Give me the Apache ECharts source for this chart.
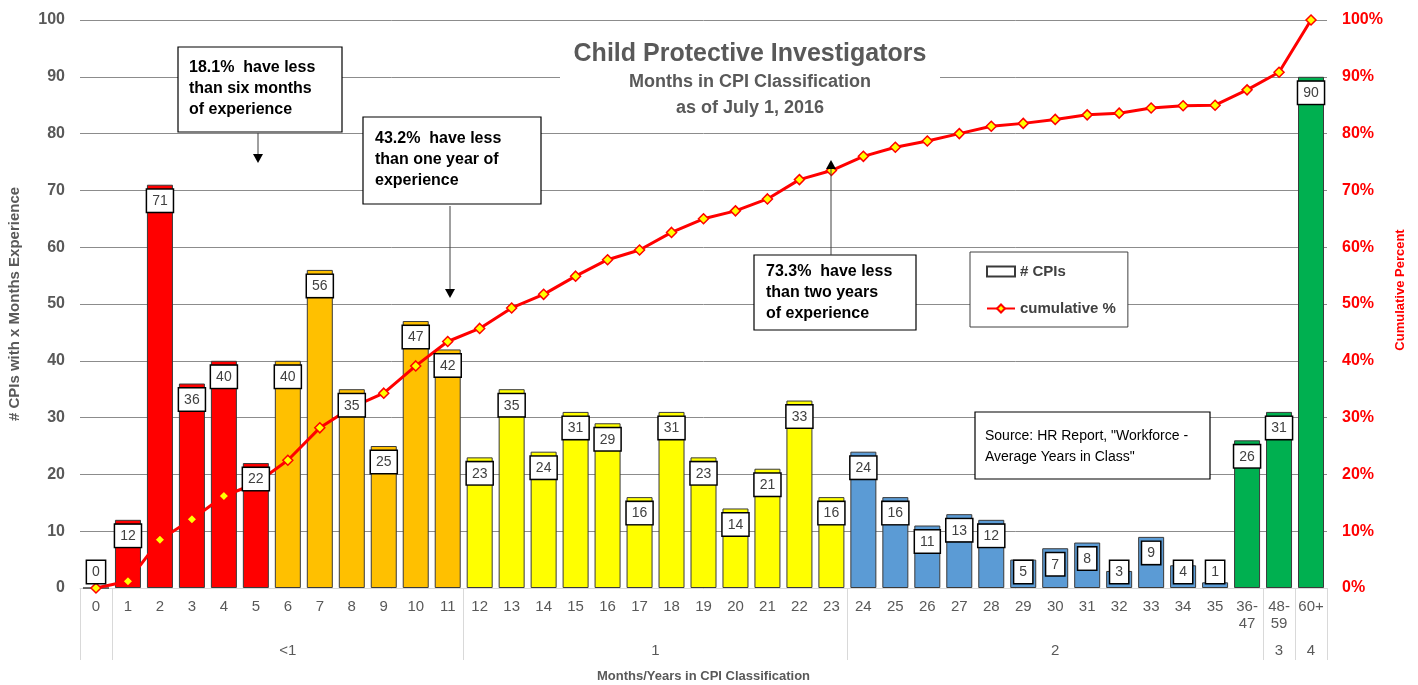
<!DOCTYPE html>
<html>
<head>
<meta charset="utf-8">
<script src="https://cdn.jsdelivr.net/npm/echarts@6/dist/echarts.min.js"></script>
<style>
  html, body { margin: 0; padding: 0; background: #fff; }
  #chart { width: 1418px; height: 685px; }
</style>
</head>
<body>
<div id="chart"></div>
<script>
// months / years in CPI classification
const categories = ['0', '1', '2', '3', '4', '5', '6', '7', '8', '9', '10', '11',
  '12', '13', '14', '15', '16', '17', '18', '19', '20', '21', '22', '23',
  '24', '25', '26', '27', '28', '29', '30', '31', '32', '33', '34', '35',
  '36-\n47', '48-\n59', '60+'];
// # CPIs
const counts = [0, 12, 71, 36, 40, 22, 40, 56, 35, 25, 47, 42,
  23, 35, 24, 31, 29, 16, 31, 23, 14, 21, 33, 16,
  24, 16, 11, 13, 12, 5, 7, 8, 3, 9, 4, 1,
  26, 31, 90];
// cumulative %
const cumulativePct = [0, 1.2, 8.5, 12.1, 16.2, 18.4, 22.5, 28.2, 31.8, 34.3, 39.1, 43.4,
  45.7, 49.3, 51.7, 54.9, 57.8, 59.5, 62.6, 65.0, 66.4, 68.5, 71.9, 73.5,
  76.0, 77.6, 78.7, 80.0, 81.3, 81.8, 82.5, 83.3, 83.6, 84.5, 84.9, 85.0,
  87.7, 90.8, 100];
// second row of the x axis (years)
const yearLabels = ['<1', '1', '2', '3', '4'];
const yearCenters = [6, 17.5, 30, 37, 38];
const yearBounds = [-0.5, 0.5, 11.5, 23.5, 36.5, 37.5, 38.5];

const FONT = '"Liberation Sans", Arial, sans-serif';
const GRAY = '#595959';

function barColor(i) {
  if (i <= 5) return '#FF0000';
  if (i <= 11) return '#FFC000';
  if (i <= 23) return '#FFFF00';
  if (i <= 35) return '#5B9BD5';
  return '#00B050';
}

let barData = counts.map(function (v, i) {
  return { value: v, itemStyle: { color: barColor(i) } };
});
let labelData = counts.map(function (v) {
  if (v <= 5) return { value: v, label: { position: 'insideBottom', distance: 5 } };
  return v;
});

function box(x, y, w, h) {
  return { type: 'rect', z: 50, shape: { x: x, y: y, width: w, height: h },
    style: { fill: '#fff', stroke: '#000', lineWidth: 1.2 } };
}
function note(x, y, text, size, weight) {
  return { type: 'text', z: 51, x: x, y: y,
    style: { text: text, fontSize: size, fontWeight: weight, fontFamily: FONT,
      fill: '#000', lineHeight: 21, verticalAlign: 'top' } };
}
function heading(y, text, size) {
  return { type: 'text', z: 41, x: 750, y: y,
    style: { text: text, fontSize: size, fontWeight: 'bold', fontFamily: FONT,
      fill: GRAY, align: 'center', verticalAlign: 'middle' } };
}
function arrow(x, y1, y2) {
  let d = y2 > y1 ? 1 : -1;
  return [
    { type: 'line', z: 50, shape: { x1: x, y1: y1, x2: x, y2: y2 - d * 8 },
      style: { stroke: '#404040', lineWidth: 1 } },
    { type: 'polygon', z: 50, shape: { points: [[x - 5, y2 - d * 9], [x + 5, y2 - d * 9], [x, y2]] },
      style: { fill: '#000' } }
  ];
}

let dom = document.getElementById('chart');
let myChart = echarts.init(dom);

let option = {
  backgroundColor: '#fff',
  animation: false,
  textStyle: { fontFamily: FONT },
  grid: { left: 80, right: 91, top: 20, bottom: 97, outerBoundsMode: 'none', containLabel: false },
  legend: {
    data: [{ name: '# CPIs', icon: 'rect' }, { name: 'cumulative %' }],
    orient: 'vertical',
    left: 970, top: 252,
    padding: [12, 12, 11, 16],
    itemGap: 22,
    itemWidth: 28, itemHeight: 10,
    backgroundColor: '#fff',
    borderColor: '#404040', borderWidth: 1,
    textStyle: { fontFamily: FONT, fontSize: 15, fontWeight: 'bold', color: '#404040' }
  },
  xAxis: [
    {
      type: 'category',
      data: categories,
      axisLine: { lineStyle: { color: '#d9d9d9' } },
      axisTick: { show: false },
      axisLabel: { interval: 0, margin: 10, fontSize: 15, lineHeight: 17, color: GRAY, fontFamily: FONT }
    },
    {
      type: 'value',
      position: 'bottom',
      min: -0.5, max: 38.5,
      axisLine: { show: false },
      splitLine: { show: false },
      axisTick: { show: true, customValues: yearBounds, length: 72, lineStyle: { color: '#d9d9d9' } },
      axisLabel: {
        customValues: yearCenters, margin: 55, fontSize: 15, color: GRAY, fontFamily: FONT,
        formatter: function (v) {
          let k = yearCenters.indexOf(v);
          return k >= 0 ? yearLabels[k] : '';
        }
      },
      name: 'Months/Years in CPI Classification',
      nameLocation: 'middle',
      nameGap: 82,
      nameTextStyle: { fontSize: 13, fontWeight: 'bold', color: GRAY, fontFamily: FONT }
    }
  ],
  yAxis: [
    {
      type: 'value', min: 0, max: 100, interval: 10,
      axisLine: { show: false }, axisTick: { show: false },
      axisLabel: { margin: 15, fontSize: 16, fontWeight: 'bold', color: GRAY, fontFamily: FONT },
      splitLine: { lineStyle: { color: '#8c8c8c', width: 1 } },
      name: '# CPIs with x Months Experience',
      nameLocation: 'middle', nameGap: 58, nameRotate: 90,
      nameTextStyle: { fontSize: 15, fontWeight: 'bold', color: GRAY, fontFamily: FONT }
    },
    {
      type: 'value', min: 0, max: 100, interval: 10,
      axisLine: { show: false }, axisTick: { show: false },
      axisLabel: { margin: 15, fontSize: 16, fontWeight: 'bold', color: '#FF0000', fontFamily: FONT, formatter: '{value}%' },
      splitLine: { show: false },
      name: 'Cumulative Percent',
      nameLocation: 'middle', nameGap: 66, nameRotate: 90,
      nameTextStyle: { fontSize: 13, fontWeight: 'bold', color: '#FF0000', fontFamily: FONT, padding: [0, 0, 0, 28] }
    }
  ],
  series: [
    {
      name: '# CPIs',
      type: 'bar',
      z: 2,
      barWidth: 26,
      itemStyle: { color: '#fff', borderColor: '#3a3a3a', borderWidth: 1 },
      data: barData
    },
    {
      name: 'labels',
      type: 'bar',
      z: 4,
      barWidth: 26,
      barGap: '-100%',
      silent: true,
      itemStyle: { color: 'rgba(0,0,0,0)' },
      label: {
        show: true, position: 'insideTop', distance: 5,
        backgroundColor: '#fff', borderColor: '#000', borderWidth: 1.5,
        padding: [4, 5, 3, 5],
        fontSize: 14, lineHeight: 15, color: '#404040', fontFamily: FONT
      },
      data: labelData
    },
    {
      name: 'cumulative %',
      type: 'line',
      z: 3,
      yAxisIndex: 1,
      symbol: 'diamond',
      symbolSize: 10,
      lineStyle: { color: '#FF0000', width: 3 },
      itemStyle: { color: '#FFFF00', borderColor: '#FF0000', borderWidth: 1.5 },
      data: cumulativePct
    }
  ],
  graphic: [
    { type: 'rect', z: 40, shape: { x: 560, y: 30, width: 380, height: 95 }, style: { fill: '#fff' } },
    heading(54, 'Child Protective Investigators', 25),
    heading(82, 'Months in CPI Classification', 18),
    heading(108, 'as of July 1, 2016', 18),

    box(178, 47, 164, 85),
    note(189, 57.5, '18.1%  have less\nthan six months\nof experience', 16, 'bold'),
    box(363, 117, 178, 87),
    note(375, 128.5, '43.2%  have less\nthan one year of\nexperience', 16, 'bold'),
    box(754, 255, 162, 75),
    note(766, 261.5, '73.3%  have less\nthan two years\nof experience', 16, 'bold'),
    box(975, 412, 235, 67),
    note(985, 425.5, 'Source: HR Report, "Workforce -\nAverage Years in Class"', 14, 'normal')
  ].concat(arrow(258, 133, 163), arrow(450, 206, 298), arrow(831, 255, 160))
};

myChart.setOption(option);
</script>
</body>
</html>
